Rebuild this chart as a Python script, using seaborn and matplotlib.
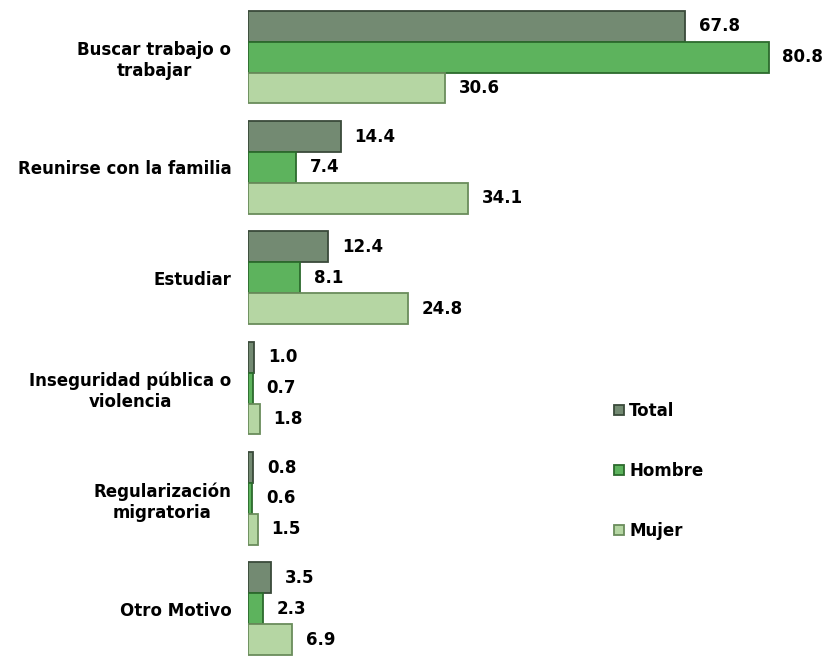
import pandas as pd
import matplotlib.pyplot as plt
import seaborn as sns

# Data
categories = ["Buscar trabajo o\ntrabajar", "Reunirse con la familia", "Estudiar",
              "Inseguridad pública o\nviolencia", "Regularización\nmigratoria", "Otro Motivo"]
total = [67.8, 14.4, 12.4, 1.0, 0.8, 3.5]
hombre = [80.8, 7.4, 8.1, 0.7, 0.6, 2.3]
mujer = [30.6, 34.1, 24.8, 1.8, 1.5, 6.9]
series = ["Total", "Hombre", "Mujer"]
colors = ["#738a72", "#5db35d", "#b5d6a3"]
edges = ["#3a4a3a", "#2c6a2d", "#6a8c5c"]

df = pd.DataFrame({
    "motivo": categories * 3,
    "valor": total + hombre + mujer,
    "serie": [s for s in series for _ in categories],
})

sns.set_style("white")
plt.rcParams["font.family"] = ["DejaVu Sans"]
plt.rcParams["font.weight"] = "bold"
plt.rcParams["text.color"] = "black"
plt.rcParams["ytick.color"] = "black"

fig = plt.figure(figsize=(8.22, 6.56), dpi=100)
ax = fig.add_axes([248 / 822, 0, 1 - 248 / 822, 1])

sns.barplot(data=df, x="valor", y="motivo", hue="serie", orient="h",
            palette=colors, saturation=1, width=0.84, ax=ax, legend=False)

for cont, ec in zip(ax.containers, edges):
    for bar in cont:
        bar.set_edgecolor(ec)
        bar.set_linewidth(1.3)
    ax.bar_label(cont, fmt="%.1f", padding=10, fontsize=12, fontweight="bold", color="black")

ax.set_xlim(0, 89.1)
ax.set_ylim(5.428, -0.518)
ax.set_xlabel("")
ax.set_ylabel("")
ax.set_xticks([])
ax.tick_params(axis="y", length=0, pad=12, labelsize=12, labelcolor="black")
for lab in ax.get_yticklabels():
    lab.set_fontweight("bold")
    lab.set_multialignment("center")
for sp in ax.spines.values():
    sp.set_visible(False)

handles = [plt.Rectangle((0, 0), 1, 1, facecolor=c, edgecolor=e, linewidth=1.3)
           for c, e in zip(colors, edges)]
fig.legend(handles, series, loc="upper left", bbox_to_anchor=(599 / 822, 1 - 387 / 656),
           frameon=False, handlelength=0.6, handleheight=0.6, handletextpad=0.3,
           labelspacing=2.52, prop={"size": 12, "weight": "bold"})

fig.savefig("out.png", dpi=100)
